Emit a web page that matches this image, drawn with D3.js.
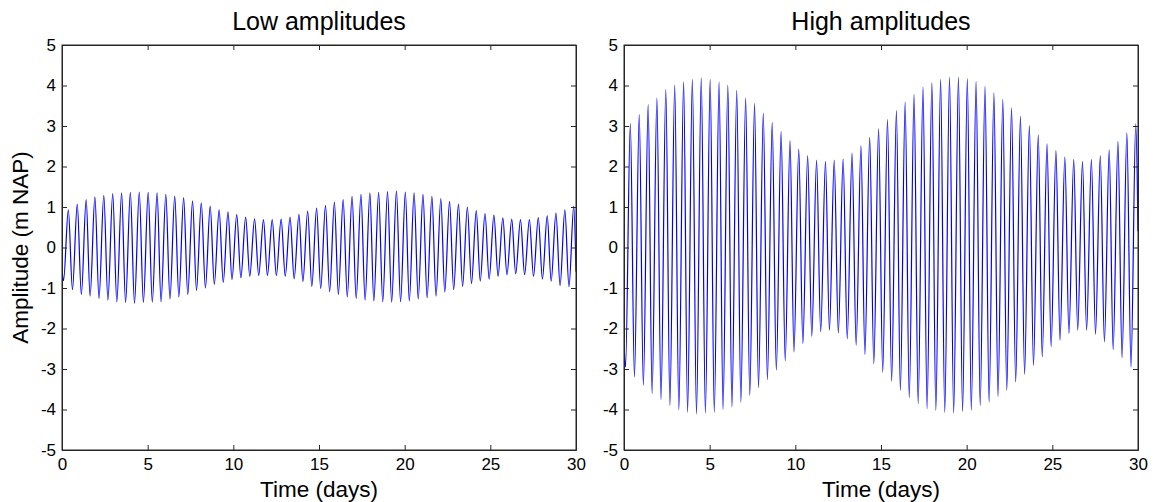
<!DOCTYPE html>
<html><head><meta charset="utf-8">
<script src="https://cdn.jsdelivr.net/npm/d3@7"></script>
<style>
body{margin:0;background:#fff;}
svg{display:block;}
text{font-family:"Liberation Sans",Arial,sans-serif;fill:#000;}
</style>
</head><body>
<svg id="chart" width="1157" height="502"></svg>
<script>
// ---- data ----
const peakTimes = [0.37,0.89,1.41,1.92,2.44,2.96,3.48,3.99,4.51,5.03,
  5.55,6.06,6.58,7.10,7.62,8.13,8.65,9.17,9.69,10.20,
  10.72,11.24,11.76,12.27,12.79,13.31,13.83,14.34,14.86,15.38,
  15.90,16.41,16.93,17.45,17.97,18.48,19.00,19.52,20.04,20.55,
  21.07,21.59,22.11,22.62,23.14,23.66,24.18,24.69,25.21,25.73,
  26.25,26.76,27.28,27.80,28.32,28.83,29.35,29.87];
const troughTimes = [0.09,0.61,1.13,1.64,2.16,2.68,3.20,3.71,4.23,4.75,
  5.27,5.78,6.30,6.82,7.34,7.85,8.37,8.89,9.41,9.92,
  10.44,10.96,11.48,11.99,12.51,13.03,13.55,14.06,14.58,15.10,
  15.62,16.13,16.65,17.17,17.69,18.20,18.72,19.24,19.76,20.27,
  20.79,21.31,21.83,22.34,22.86,23.38,23.90,24.41,24.93,25.45,
  25.97,26.48,27.00,27.52,28.04,28.55,29.07,29.59];

const lowPeaks = [0.93,1.07,1.18,1.25,1.29,1.33,1.35,1.36,1.37,1.36,
  1.35,1.31,1.27,1.23,1.15,1.10,1.02,0.93,0.88,0.81,
  0.75,0.71,0.69,0.69,0.70,0.75,0.82,0.90,0.97,1.04,
  1.12,1.18,1.26,1.31,1.35,1.36,1.38,1.40,1.37,1.35,
  1.31,1.26,1.21,1.14,1.07,1.00,0.91,0.84,0.80,0.73,
  0.70,0.69,0.69,0.74,0.78,0.85,0.93,1.02];
const lowTroughs = [-0.82,-1.04,-1.16,-1.20,-1.26,-1.30,-1.34,-1.36,-1.38,-1.36,
  -1.35,-1.34,-1.27,-1.22,-1.16,-1.06,-1.00,-0.91,-0.86,-0.79,
  -0.75,-0.71,-0.69,-0.69,-0.69,-0.71,-0.77,-0.84,-0.96,-1.01,
  -1.09,-1.16,-1.22,-1.26,-1.30,-1.32,-1.34,-1.35,-1.34,-1.32,
  -1.27,-1.24,-1.20,-1.10,-1.04,-0.96,-0.89,-0.83,-0.78,-0.71,
  -0.67,-0.65,-0.67,-0.71,-0.78,-0.83,-0.94,-0.97];
const lowStart = -0.5, lowEnd = -0.6;

const highPeaks = [3.06,3.28,3.53,3.69,3.90,4.01,4.09,4.15,4.19,4.15,
  4.09,4.01,3.88,3.69,3.55,3.32,3.09,2.86,2.64,2.43,
  2.26,2.15,2.12,2.15,2.18,2.33,2.51,2.72,2.93,3.16,
  3.38,3.59,3.78,3.96,4.07,4.15,4.21,4.21,4.17,4.10,
  3.98,3.82,3.65,3.45,3.24,3.01,2.78,2.56,2.39,2.23,
  2.17,2.12,2.17,2.26,2.41,2.62,2.83,3.05];
const highTroughs = [-2.95,-3.20,-3.40,-3.61,-3.76,-3.90,-4.01,-4.07,-4.11,-4.09,
  -4.07,-4.00,-3.94,-3.82,-3.65,-3.46,-3.26,-3.03,-2.80,-2.58,
  -2.37,-2.19,-2.08,-2.04,-2.11,-2.25,-2.41,-2.64,-2.87,-3.08,
  -3.30,-3.53,-3.71,-3.86,-3.98,-4.02,-4.07,-4.09,-4.05,-4.02,
  -3.90,-3.82,-3.68,-3.53,-3.32,-3.13,-2.91,-2.70,-2.45,-2.29,
  -2.12,-2.04,-2.04,-2.14,-2.33,-2.52,-2.72,-2.95];
const highStart = -2.3, highEnd = 0.4;

const xTicks = [0,5,10,15,20,25,30];
const yTicks = [-5,-4,-3,-2,-1,0,1,2,3,4,5];
const titles = ["Low amplitudes","High amplitudes"];
const xLabel = "Time (days)";
const yLabel = "Amplitude (m NAP)";

// ---- drawing ----
const svg = d3.select("#chart");
const plotTop = 45, plotBottom = 450, plotW = 514;
const panels = [
  {left:62, title:titles[0], peaks:lowPeaks, troughs:lowTroughs, start:lowStart, end:lowEnd, ylab:true},
  {left:624, title:titles[1], peaks:highPeaks, troughs:highTroughs, start:highStart, end:highEnd, ylab:false}
];

function buildSeries(p){
  const pts = [{t:0, v:p.start}];
  troughTimes.forEach((t,i)=>pts.push({t:t, v:p.troughs[i]}));
  peakTimes.forEach((t,i)=>pts.push({t:t, v:p.peaks[i]}));
  pts.push({t:30, v:p.end});
  pts.sort((a,b)=>a.t-b.t);
  return pts;
}
const fmt = d => String(d);

panels.forEach((p,idx)=>{
  const x = d3.scaleLinear().domain([0,30]).range([p.left, p.left+plotW]);
  const y = d3.scaleLinear().domain([-5,5]).range([plotBottom, plotTop]);
  const g = svg.append("g");

  g.append("clipPath").attr("id","clip"+idx)
    .append("rect").attr("x",p.left).attr("y",plotTop).attr("width",plotW+1).attr("height",plotBottom-plotTop);

  const line = d3.line().x(d=>x(d.t)).y(d=>y(d.v)).curve(d3.curveMonotoneX);
  g.append("path").datum(buildSeries(p))
    .attr("clip-path","url(#clip"+idx+")")
    .attr("fill","none").attr("stroke","#0000ff").attr("stroke-width",1.2)
    .attr("d",line);

  const axisColor = "#262626";
  const bAxis = g.append("g").attr("transform",`translate(0,${plotBottom})`)
    .call(d3.axisBottom(x).tickValues(xTicks).tickSizeInner(-5).tickSizeOuter(0).tickPadding(8).tickFormat(fmt));
  const tAxis = g.append("g").attr("transform",`translate(0,${plotTop})`)
    .call(d3.axisTop(x).tickValues(xTicks).tickSizeInner(-5).tickSizeOuter(0).tickFormat(""));
  const lAxis = g.append("g").attr("transform",`translate(${p.left},0)`)
    .call(d3.axisLeft(y).tickValues(yTicks).tickSizeInner(-5).tickSizeOuter(0).tickPadding(6).tickFormat(fmt));
  const rAxis = g.append("g").attr("transform",`translate(${p.left+plotW},0)`)
    .call(d3.axisRight(y).tickValues(yTicks).tickSizeInner(-5).tickSizeOuter(0).tickFormat(""));
  [bAxis,tAxis,lAxis,rAxis].forEach(a=>{
    a.selectAll("path,line").attr("stroke",axisColor).attr("stroke-width",1);
    a.selectAll("text").attr("font-size",17).attr("font-family","Liberation Sans, Arial, sans-serif").attr("fill","#000");
  });

  g.append("rect").attr("x",p.left).attr("y",plotTop).attr("width",plotW).attr("height",plotBottom-plotTop)
    .attr("fill","none").attr("stroke",axisColor).attr("stroke-width",1);

  g.append("text").attr("x",p.left+plotW/2).attr("y",30)
    .attr("text-anchor","middle").attr("font-size",25).text(p.title);
  g.append("text").attr("x",p.left+plotW/2).attr("y",497)
    .attr("text-anchor","middle").attr("font-size",22.5).text(xLabel);
  if(p.ylab){
    g.append("text").attr("transform",`translate(28,${(plotTop+plotBottom)/2}) rotate(-90)`)
      .attr("text-anchor","middle").attr("font-size",22.5).text(yLabel);
  }
});
</script>
</body></html>
